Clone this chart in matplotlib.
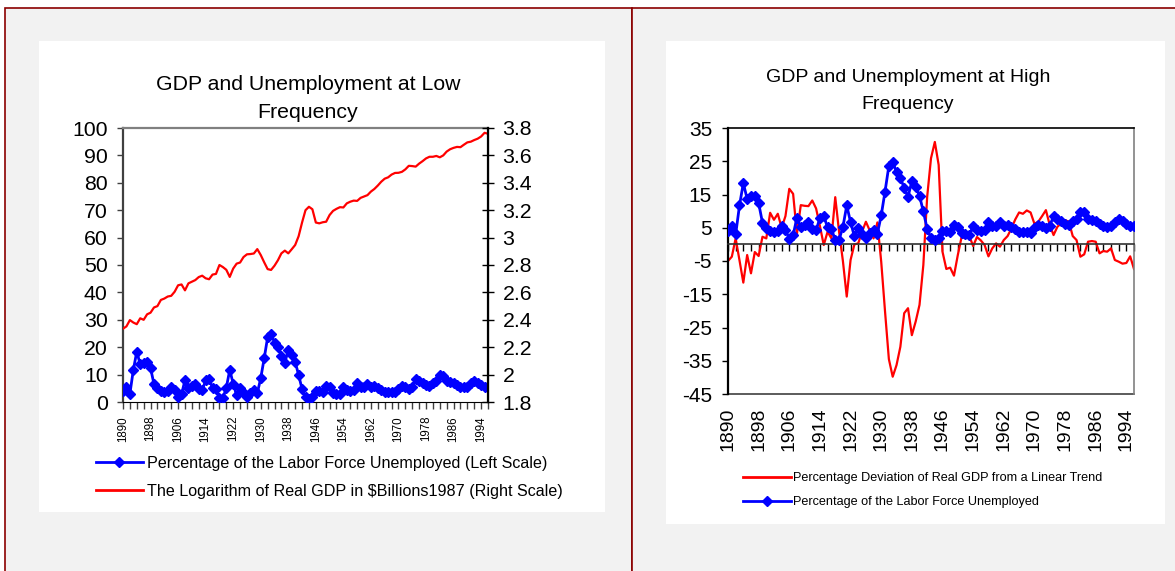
import matplotlib
matplotlib.use('Agg')
import matplotlib.pyplot as plt
from matplotlib.patches import Rectangle
from matplotlib.lines import Line2D
from matplotlib import font_manager
import numpy as np

years = list(range(1890, 1997))

unemployment = [
    4.0, 5.4, 3.0, 11.7, 18.4, 13.7, 14.4, 14.5, 12.4, 6.5,   # 1890s
    5.0, 4.0, 3.7, 3.9, 5.4, 4.3, 1.7, 2.8, 8.0, 5.1,         # 1900s
    5.9, 6.7, 4.6, 4.3, 7.9, 8.5, 5.1, 4.6, 1.4, 1.4,         # 1910s
    5.2, 11.7, 6.7, 2.4, 5.0, 3.2, 1.8, 3.3, 4.2, 3.2,        # 1920s
    8.7, 15.9, 23.6, 24.9, 21.7, 20.1, 16.9, 14.3, 19.0, 17.2,  # 1930s
    14.6, 9.9, 4.7, 1.9, 1.2, 1.9, 3.9, 3.9, 3.8, 5.9,        # 1940s
    5.3, 3.3, 3.0, 2.9, 5.5, 4.4, 4.1, 4.3, 6.8, 5.5,         # 1950s
    5.5, 6.7, 5.5, 5.7, 5.2, 4.5, 3.8, 3.8, 3.6, 3.5,         # 1960s
    4.9, 5.9, 5.6, 4.9, 5.6, 8.5, 7.7, 7.1, 6.1, 5.8,         # 1970s
    7.1, 7.6, 9.7, 9.6, 7.5, 7.2, 7.0, 6.2, 5.5, 5.3,         # 1980s
    5.6, 6.8, 7.5, 6.9, 6.1, 5.6, 5.4,                        # 1990s
]

log_real_gdp = [
    2.335, 2.352, 2.398, 2.380, 2.368, 2.411, 2.400, 2.440, 2.452, 2.490,
    2.500, 2.545, 2.555, 2.570, 2.575, 2.605, 2.652, 2.658, 2.615, 2.666,
    2.678, 2.690, 2.712, 2.722, 2.703, 2.696, 2.730, 2.735, 2.800, 2.785,
    2.765, 2.713, 2.774, 2.810, 2.818, 2.858, 2.878, 2.880, 2.884, 2.916,
    2.873, 2.820, 2.770, 2.764, 2.795, 2.835, 2.885, 2.905, 2.885, 2.915,
    2.946, 3.010, 3.110, 3.200, 3.225, 3.207, 3.110, 3.104, 3.112, 3.116,
    3.165, 3.195, 3.210, 3.222, 3.220, 3.250, 3.262, 3.270, 3.268, 3.290,
    3.300, 3.310, 3.336, 3.355, 3.380, 3.408, 3.430, 3.440, 3.460, 3.472,
    3.473, 3.480, 3.498, 3.524, 3.522, 3.518, 3.540, 3.558, 3.578, 3.590,
    3.590, 3.596, 3.586, 3.600, 3.628, 3.645, 3.655, 3.662, 3.660, 3.678,
    3.695, 3.700, 3.712, 3.722, 3.738, 3.765, 3.758,
]

gdp_deviation = [
    -5.0, -3.7, 1.8, -4.8, -11.5, -3.2, -8.7, -2.3, -3.5, 2.3,
    1.8, 9.5, 7.4, 9.2, 5.0, 8.5, 16.7, 15.2, 3.2, 11.8,
    11.6, 11.5, 13.2, 10.8, 5.5, -0.2, 3.8, 1.8, 14.2, 3.8,
    -5.0, -15.7, -4.7, 0.0, 0.3, 3.8, 6.8, 4.2, 1.8, 6.6,
    -5.2, -20.2, -34.5, -39.8, -36.3, -30.8, -20.7, -19.2, -27.3, -23.2,
    -18.2, -6.2, 14.3, 25.9, 30.8, 23.9, -2.2, -7.4, -7.0, -9.4,
    -3.2, 2.3, 1.8, 2.5, -0.5, 2.2, 1.2, -0.2, -3.6, -1.2,
    0.3, -0.7, 1.3, 2.5, 4.8, 7.5, 9.6, 9.2, 10.2, 9.6,
    6.2, 6.8, 8.5, 10.3, 5.8, 2.8, 5.3, 6.3, 7.3, 6.8,
    2.5, 1.3, -3.7, -3.0, 0.8, 1.0, 0.8, -2.7, -2.0, -2.2,
    -1.2, -4.7, -5.2, -5.8, -5.6, -3.6, -7.4,
]

left_title = ["GDP and Unemployment at Low", "Frequency"]
right_title = ["GDP and Unemployment at High", "Frequency"]
left_labels = ["Percentage of the Labor Force Unemployed (Left Scale)",
               "The Logarithm of Real GDP in $Billions1987 (Right Scale)"]
right_labels = ["Percentage Deviation of Real GDP from a Linear Trend",
                "Percentage of the Labor Force Unemployed"]
label_years = list(range(1890, 1997, 8))
tick_years = list(range(1890, 1997, 2))

plt.rcParams['font.family'] = ['Liberation Sans', 'DejaVu Sans']
plt.rcParams['axes.unicode_minus'] = False

installed = {f.name for f in font_manager.fontManager.ttflist}
if 'Liberation Sans Narrow' in installed:
    narrow_family = ['Liberation Sans Narrow', 'Liberation Sans']
    narrow_size = 10
else:
    narrow_family = ['Liberation Sans', 'DejaVu Sans']
    narrow_size = 8.3

W, H = 1175, 571
fig = plt.figure(figsize=(W / 100, H / 100), dpi=100)
fig.patch.set_facecolor('white')


def frac_rect(x0, y0, x1, y1):
    return [x0 / W, 1 - y1 / H, (x1 - x0) / W, (y1 - y0) / H]


def add_rect(x0, y0, x1, y1, **kw):
    r = Rectangle((x0 / W, 1 - y1 / H), (x1 - x0) / W, (y1 - y0) / H,
                  transform=fig.transFigure, zorder=-10, **kw)
    fig.patches.append(r)


# panel frames and chart areas
add_rect(5, 8, 632, 590, facecolor='#f2f2f2', edgecolor='#8b0000', lw=1.2)
add_rect(632, 8, 1190, 590, facecolor='#f2f2f2', edgecolor='#8b0000', lw=1.2)
add_rect(39, 41, 605, 512, facecolor='white', edgecolor='none')
add_rect(666, 41, 1165, 524, facecolor='white', edgecolor='none')

BLUE = '#0000ff'
RED = '#ff0000'
MS = 5.0

# ---------------- Left chart ----------------
ax1 = fig.add_axes(frac_rect(123, 128, 488, 402))
ax1.set_facecolor('white')
ax1.plot(years, unemployment, color=BLUE, lw=2.0, marker='D', ms=MS,
         mec=BLUE, mfc=BLUE, zorder=3)
ax1.set_xlim(1890, 1996)
ax1.set_ylim(0, 100)
ax1.set_yticks(range(0, 101, 10))
ax1.set_xticks(tick_years)
ax1.set_xticklabels([str(y) if y in label_years else '' for y in tick_years],
                    rotation=90, fontsize=narrow_size, family=narrow_family)
ax1.tick_params(axis='x', direction='out', length=5, width=1, color='#404040', pad=5)
ax1.tick_params(axis='y', direction='out', length=4.5, width=1, labelsize=15.3,
                pad=6.5, color='#404040')
ax1.spines['left'].set_color('#404040')
ax1.spines['left'].set_linewidth(1.6)
ax1.spines['top'].set_color('#808080')
ax1.spines['top'].set_linewidth(1.6)
ax1.spines['bottom'].set_color('black')
ax1.spines['right'].set_color('black')

ax2 = ax1.twinx()
ax2.plot(years, log_real_gdp, color=RED, lw=1.6, zorder=2)
ax2.set_ylim(1.8, 3.8)
rt = np.round(np.arange(1.8, 3.81, 0.2), 1)
ax2.set_yticks(rt)
ax2.set_yticklabels(['{:g}'.format(v) for v in rt])
ax2.tick_params(axis='y', direction='inout', length=9, width=1, labelsize=15.3,
                pad=6, color='black')
ax2.spines['right'].set_color('black')
ax2.spines['right'].set_linewidth(1.6)
for s in ['top', 'left', 'bottom']:
    ax2.spines[s].set_visible(False)

for i, t in enumerate(left_title):
    fig.text(308 / W, 1 - (84 + 28 * i) / H, t, ha='center', va='center',
             fontsize=15.3)

lh = [Line2D([], [], color=BLUE, lw=2.0, marker='D', ms=MS),
      Line2D([], [], color=RED, lw=2.0)]
fig.legend(lh, left_labels, loc='upper left', bbox_to_anchor=(96 / W, 1 - 456 / H),
           frameon=False, fontsize=11.6, handlelength=2.9, handletextpad=0.25,
           labelspacing=0.8, numpoints=1, borderaxespad=0, borderpad=0)

# ---------------- Right chart ----------------
ax3 = fig.add_axes(frac_rect(728, 128, 1134, 394))
ax3.set_facecolor('white')
ax3.plot(years, gdp_deviation, color=RED, lw=1.6, zorder=2)
ax3.plot(years, unemployment, color=BLUE, lw=2.0, marker='D', ms=MS,
         mec=BLUE, mfc=BLUE, zorder=3)
ax3.set_xlim(1890, 1996)
ax3.set_ylim(-45, 35)
ax3.set_yticks(range(-45, 36, 10))
ax3.tick_params(axis='y', direction='out', length=4.5, width=1, labelsize=15, pad=7)
ax3.spines['bottom'].set_position(('data', 0))
ax3.spines['bottom'].set_color('#303030')
ax3.spines['bottom'].set_linewidth(1.2)
ax3.set_xticks(tick_years)
ax3.set_xticklabels([])
ax3.tick_params(axis='x', direction='out', length=5, width=1, color='black')
ax3.spines['left'].set_linewidth(1.6)
ax3.spines['top'].set_linewidth(1.2)
ax3.spines['right'].set_color('#808080')
ax3.spines['right'].set_linewidth(1.2)

sec = ax3.secondary_xaxis('bottom')
sec.set_xticks(label_years)
sec.set_xticklabels([str(y) for y in label_years], rotation=90, fontsize=14)
sec.tick_params(axis='x', length=0, pad=10)
sec.spines['bottom'].set_color('#404040')
sec.spines['bottom'].set_linewidth(1.2)

for i, t in enumerate(right_title):
    fig.text(908 / W, 1 - (77 + 27 * i) / H, t, ha='center', va='center',
             fontsize=14)

rh = [Line2D([], [], color=RED, lw=2.0),
      Line2D([], [], color=BLUE, lw=2.0, marker='D', ms=MS)]
fig.legend(rh, right_labels, loc='upper left', bbox_to_anchor=(743 / W, 1 - 472 / H),
           frameon=False, fontsize=9.1, handlelength=3.8, handletextpad=0.15,
           labelspacing=0.95, numpoints=1, borderaxespad=0, borderpad=0)

fig.savefig('out.png', dpi=100, facecolor='white')
